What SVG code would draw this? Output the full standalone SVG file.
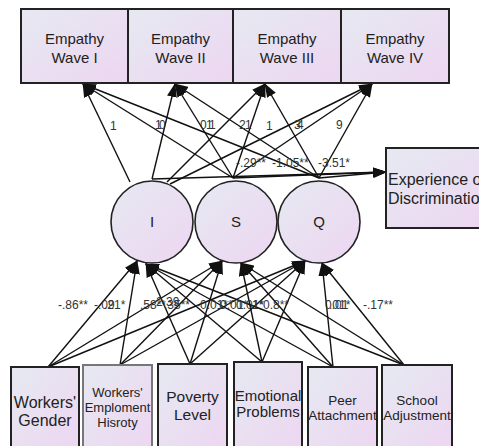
<svg xmlns="http://www.w3.org/2000/svg" width="479" height="446" viewBox="0 0 479 446">
<defs>
<linearGradient id="g" x1="0" y1="0" x2="1" y2="1">
<stop offset="0" stop-color="#e6e9f1"/>
<stop offset="1" stop-color="#edd6f1"/>
</linearGradient>
<marker id="ah" markerUnits="userSpaceOnUse" markerWidth="14" markerHeight="10" refX="13" refY="5" orient="auto">
<path d="M0,0 L14,5 L0,10 z" fill="#111"/>
</marker>
<style>
.box{fill:url(#g);stroke:#222;stroke-width:2}
.lt{stroke:#777}
.c{fill:url(#g);stroke:#222;stroke-width:1.6}
.t{font-family:"Liberation Sans",Arial,sans-serif;fill:#222;text-anchor:middle}
.lab{font-family:"Liberation Sans",Arial,sans-serif;fill:#333;font-size:12px}
.e{stroke:#111;stroke-width:1.4;fill:none;marker-end:url(#ah)}
</style>
</defs>
<rect width="479" height="446" fill="#fff"/>

<g id="connectors">
<line class="e" x1="130" y1="182" x2="83" y2="84"/>
<line class="e" x1="152" y1="179" x2="175" y2="84"/>
<line class="e" x1="167" y1="182" x2="265" y2="84"/>
<line class="e" x1="170" y1="184" x2="372" y2="84"/>
<line class="e" x1="233" y1="178" x2="83" y2="84"/>
<line class="e" x1="233" y1="178" x2="175" y2="84"/>
<line class="e" x1="233" y1="178" x2="265" y2="84"/>
<line class="e" x1="233" y1="178" x2="372" y2="84"/>
<line class="e" x1="319" y1="178" x2="83" y2="84"/>
<line class="e" x1="319" y1="178" x2="175" y2="84"/>
<line class="e" x1="319" y1="178" x2="265" y2="84"/>
<line class="e" x1="319" y1="178" x2="372" y2="84"/>
<line class="e" x1="152" y1="179" x2="386" y2="172"/>
<line class="e" x1="233" y1="178" x2="386" y2="172"/>
<line class="e" x1="319" y1="178" x2="386" y2="172"/>
<line class="e" x1="48" y1="367" x2="137" y2="261"/>
<line class="e" x1="48" y1="367" x2="222" y2="261"/>
<line class="e" x1="48" y1="367" x2="305" y2="261"/>
<line class="e" x1="120" y1="365" x2="137" y2="261"/>
<line class="e" x1="120" y1="365" x2="222" y2="261"/>
<line class="e" x1="120" y1="365" x2="305" y2="261"/>
<line class="e" x1="190" y1="364" x2="146" y2="264"/>
<line class="e" x1="190" y1="364" x2="222" y2="261"/>
<line class="e" x1="190" y1="364" x2="305" y2="261"/>
<line class="e" x1="262" y1="362" x2="146" y2="264"/>
<line class="e" x1="262" y1="362" x2="241" y2="263"/>
<line class="e" x1="262" y1="362" x2="305" y2="261"/>
<line class="e" x1="333" y1="367" x2="146" y2="264"/>
<line class="e" x1="333" y1="367" x2="241" y2="263"/>
<line class="e" x1="333" y1="367" x2="322" y2="263"/>
<line class="e" x1="404" y1="365" x2="146" y2="264"/>
<line class="e" x1="404" y1="365" x2="241" y2="263"/>
<line class="e" x1="404" y1="365" x2="322" y2="263"/>
<text class="lab" x="110" y="130">1</text>
<text class="lab" x="155" y="129">1</text>
<text class="lab" x="159" y="129">0</text>
<text class="lab" x="200" y="129">0</text>
<text class="lab" x="206" y="129">1</text>
<text class="lab" x="209" y="129">1</text>
<text class="lab" x="239" y="129">2</text>
<text class="lab" x="245" y="129">1</text>
<text class="lab" x="266" y="130">1</text>
<text class="lab" x="294" y="129">3</text>
<text class="lab" x="297" y="129">4</text>
<text class="lab" x="336" y="129">9</text>
<text class="lab" x="236" y="167">-.29**</text>
<text class="lab" x="272" y="167">-1.05**</text>
<text class="lab" x="318" y="167">-3.51*</text>
<text class="lab" x="58" y="309">-.86**</text>
<text class="lab" x="94" y="309">-.09</text>
<text class="lab" x="104" y="309">.21*</text>
<text class="lab" x="140" y="309">.58**</text>
<text class="lab" x="156" y="306">2.39</text>
<text class="lab" x="164" y="309">.35**</text>
<text class="lab" x="196" y="309">-0.01**</text>
<text class="lab" x="220" y="309">0.01*</text>
<text class="lab" x="236" y="309">0.01*</text>
<text class="lab" x="252" y="309">1*</text>
<text class="lab" x="263" y="309">0.8**</text>
<text class="lab" x="325" y="309">0.01</text>
<text class="lab" x="329" y="309">.01*</text>
<text class="lab" x="363" y="309">-.17**</text>
</g>

<g id="wave1"><rect class="box" x="21" y="9" width="107" height="74"/><text class="t" font-size="15" x="74.5" y="44">Empathy</text><text class="t" font-size="15" x="74.5" y="63">Wave I</text></g>
<g id="wave2"><rect class="box" x="128" y="9" width="105" height="74"/><text class="t" font-size="15" x="180.5" y="44">Empathy</text><text class="t" font-size="15" x="180.5" y="63">Wave II</text></g>
<g id="wave3"><rect class="box" x="233" y="9" width="108" height="74"/><text class="t" font-size="15" x="287" y="44">Empathy</text><text class="t" font-size="15" x="287" y="63">Wave III</text></g>
<g id="wave4"><rect class="box" x="341" y="9" width="108" height="74"/><text class="t" font-size="15" x="395" y="44">Empathy</text><text class="t" font-size="15" x="395" y="63">Wave IV</text></g>

<g id="discrimination"><rect class="box" x="386" y="148" width="110" height="80"/><text class="t" font-size="16" x="388" y="185" style="text-anchor:start">Experience of</text><text class="t" font-size="16" x="388" y="204" style="text-anchor:start">Discrimination</text></g>

<g id="I"><circle class="c" cx="152" cy="222" r="41"/><text class="t" font-size="15" x="152" y="227">I</text></g>
<g id="S"><circle class="c" cx="236" cy="222" r="41"/><text class="t" font-size="15" x="236" y="227">S</text></g>
<g id="Q"><circle class="c" cx="319" cy="222" r="41"/><text class="t" font-size="15" x="319" y="227">Q</text></g>

<g id="gender"><rect class="box" x="11" y="367" width="68" height="84"/><text class="t" font-size="16" x="45" y="408">Workers'</text><text class="t" font-size="16" x="45" y="426">Gender</text></g>
<g id="employment"><rect class="box lt" x="83" y="365" width="69" height="86"/><text class="t" font-size="13" x="117.5" y="397" fill="#333">Workers'</text><text class="t" font-size="13" x="117.5" y="412">Emploment</text><text class="t" font-size="13" x="117.5" y="427">Hisroty</text></g>
<g id="poverty"><rect class="box" x="158" y="364" width="69" height="87"/><text class="t" font-size="15.5" x="192.5" y="402">Poverty</text><text class="t" font-size="15.5" x="192.5" y="420">Level</text></g>
<g id="emotional"><rect class="box" x="234" y="362" width="68" height="89"/><text class="t" font-size="15" x="268" y="401">Emotional</text><text class="t" font-size="15" x="268" y="417">Problems</text></g>
<g id="peer"><rect class="box" x="308" y="367" width="69" height="84"/><text class="t" font-size="13.5" x="342.5" y="405">Peer</text><text class="t" font-size="13.5" x="342.5" y="420">Attachment</text></g>
<g id="school"><rect class="box" x="382" y="365" width="70" height="86"/><text class="t" font-size="13.5" x="417" y="405">School</text><text class="t" font-size="13.5" x="417" y="420">Adjustment</text></g>
</svg>
